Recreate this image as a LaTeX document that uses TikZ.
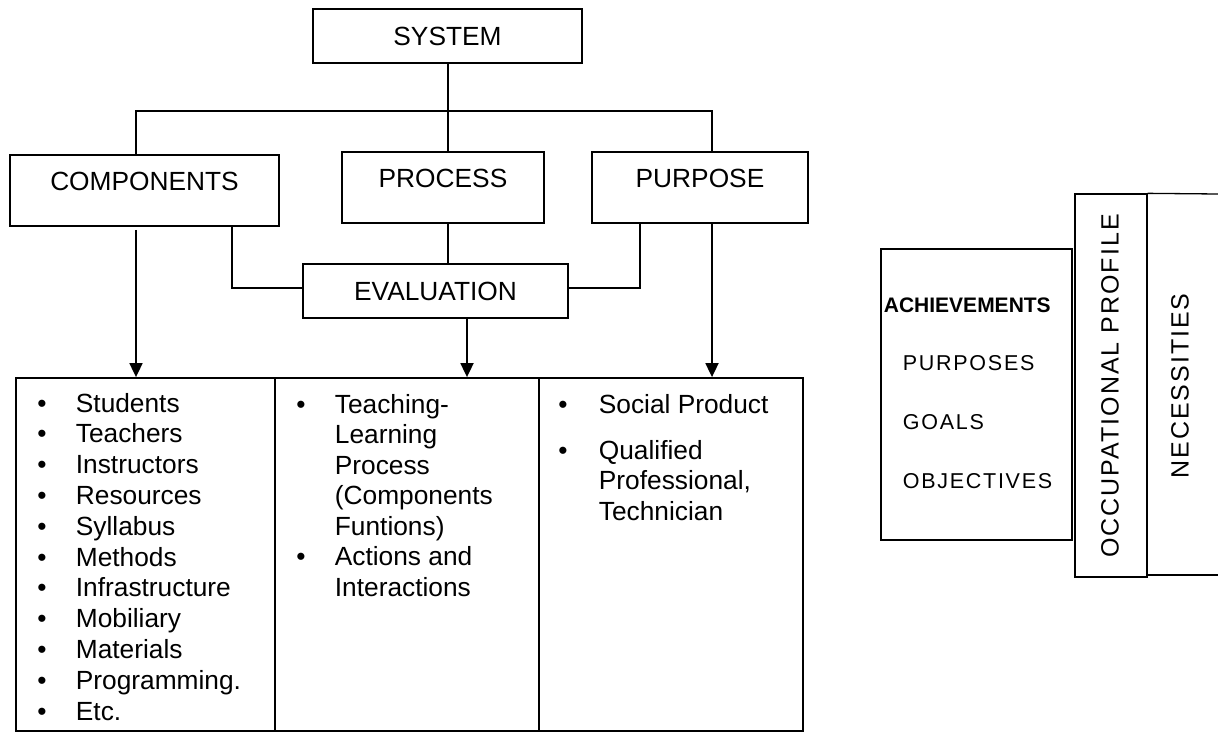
\documentclass[tikz,border=0pt]{standalone}
\usepackage{fontspec}
\setmainfont{Liberation Sans}
\newfontfamily\spacedsans[LetterSpace=8]{Liberation Sans}
\usetikzlibrary{arrows.meta}
\begin{document}
\begin{tikzpicture}[x=1pt,y=-1pt,
  line width=1.8pt,
  big/.style={font=\fontsize{26.3}{30}\selectfont},
  box/.style={draw, rectangle, inner sep=0pt, big},
  hibox/.style={box, text height=10pt, text depth=10pt},
  cell/.style={draw, rectangle, inner sep=0pt},
  panel/.style={draw, rectangle, inner sep=0pt, line width=1.3pt},
  item/.style={anchor=base west, inner sep=0pt, big},
  dot/.style={anchor=base, inner sep=0pt, big},
  side/.style={anchor=base west, inner sep=0pt, font=\spacedsans\fontsize{21.5}{24}\selectfont},
  vert/.style={rotate=90, inner sep=0pt, font=\spacedsans\fontsize{25}{28}\selectfont},
  arr/.style={-{Triangle[width=13pt,length=14pt]}},
]
\useasboundingbox (0,0) rectangle (1218,733);

% hierarchy boxes
\node[box, minimum width=269pt, minimum height=54pt] (sys) at (447.5,36) {SYSTEM};
\node[hibox, minimum width=269pt, minimum height=71pt] (comp) at (144.5,190.5) {COMPONENTS};
\node[hibox, minimum width=202pt, minimum height=71pt] (proc) at (443,187.5) {PROCESS};
\node[hibox, minimum width=216pt, minimum height=71pt] (purp) at (700,187.5) {PURPOSE};
\node[box, minimum width=265pt, minimum height=54pt] (eval) at (435.5,291) {EVALUATION};

% three-column table
\node[cell, minimum width=259pt, minimum height=353pt] (colA) at (145.5,554.5) {};
\node[cell, minimum width=264pt, minimum height=353pt] (colB) at (407,554.5) {};
\node[cell, minimum width=264pt, minimum height=353pt] (colC) at (671,554.5) {};

% bus from SYSTEM to its three parts
\coordinate (busL) at (136,111);
\coordinate (busR) at (712,111);
\coordinate (busM) at (448,111);
\coordinate (evdrop) at (467,0);
\draw (busM |- sys.south) -- (busM |- proc.north);
\draw (busL |- comp.north) -- (busL) -- (busR) -- (busR |- purp.north);

% links into EVALUATION
\coordinate (cl) at (232,288);
\coordinate (cr) at (640,288);
\draw (cl |- comp.south) -- (cl) -- (cl -| eval.west);
\draw (busM |- proc.south) -- (busM |- eval.north);
\draw (cr |- purp.south) -- (cr) -- (cr -| eval.east);

% arrows down to the table
\draw[arr, shorten <=3pt] (busL |- comp.south) -- (busL |- colA.north);
\draw[arr] (evdrop |- eval.south) -- (evdrop |- colB.north);
\draw[arr] (busR |- purp.south) -- (busR |- colC.north);

% column A list
\foreach \t [count=\i from 0] in {Students,Teachers,Instructors,Resources,Syllabus,Methods,Infrastructure,Mobiliary,Materials,Programming.,Etc.} {
  \node[dot] (ab\i) at (42,{412+30.8*\i}) {•};
  \node[item] (at\i) at (75,{412+30.8*\i}) {\t};
}

% column B list
\node[dot] (bb0) at (301,413) {•};
\foreach \t [count=\i from 0] in {{Teaching-},{Learning},{Process},{(Components},{Funtions)},{Actions and},{Interactions}} {
  \node[item] (bt\i) at (334,{413+30.5*\i}) {\t};
}
\node[dot] (bb1) at (301,565.5) {•};

% column C list
\node[dot] (cb0) at (563,413) {•};
\node[item] (ct0) at (598,413) {Social Product};
\node[dot] (cb1) at (563,459) {•};
\node[item] (ct1) at (598,459) {Qualified};
\node[item] (ct2) at (598,489) {Professional,};
\node[item] (ct3) at (598,520) {Technician};

% right-hand panel
\node[panel, minimum width=191pt, minimum height=291pt] (ach) at (976.5,394.5) {};
\node[anchor=base west, inner sep=0pt, font=\bfseries\fontsize{21}{24}\selectfont] (achT) at (883,312) {ACHIEVEMENTS};
\node[side] (purT) at (902,370) {PURPOSES};
\node[side] (goaT) at (902,429) {GOALS};
\node[side] (objT) at (902,488) {OBJECTIVES};

\node[panel, minimum width=72pt, minimum height=383pt] (occ) at (1111,385.5) {};
\node[vert] (occT) at (1110,386) {OCCUPATIONAL PROFILE};

\coordinate (necTR) at (1218,194);
\coordinate (necBR) at (1218,575);
\draw[line width=1.3pt] (occ.north east) -- (necTR);
\draw[line width=1.3pt] (occ.east |- necBR) -- (necBR);
\node[vert] (necT) at (1180,386) {NECESSITIES};
\end{tikzpicture}
\end{document}
